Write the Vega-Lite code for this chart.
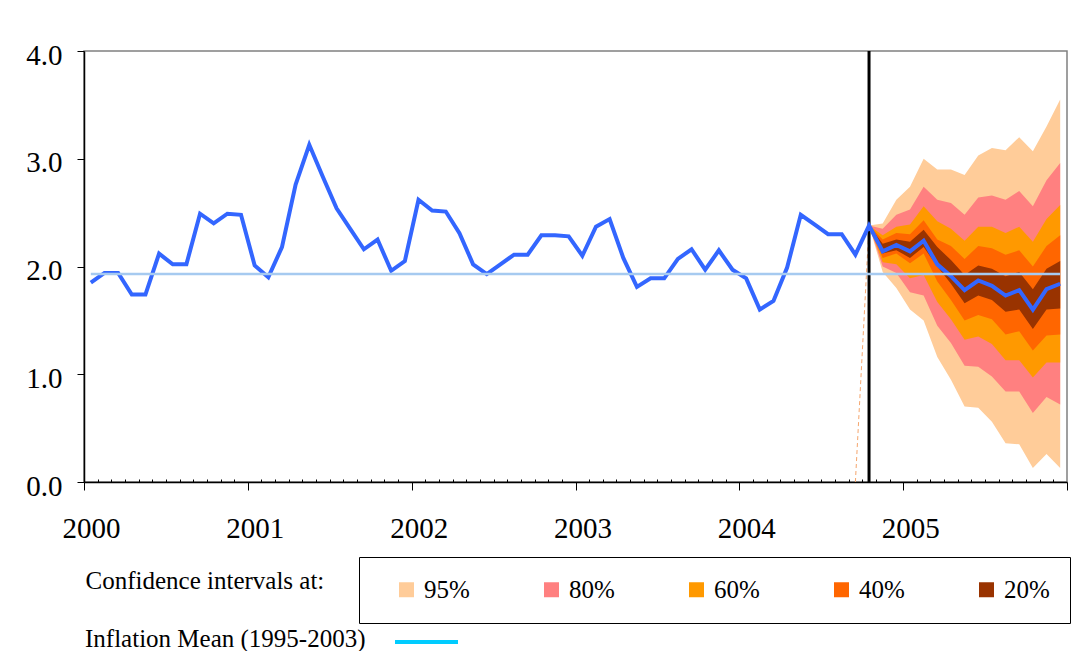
{
  "$schema": "https://vega.github.io/schema/vega-lite/v6.json",
  "autosize": {"type": "none"},
  "width": 983,
  "height": 431,
  "padding": {"left": 84, "top": 51, "right": 24, "bottom": 169},
  "background": "white",
  "config": {
    "view": {"stroke": "#808080", "strokeWidth": 1.5},
    "legend": {"titleFont": "Liberation Serif", "labelFont": "Liberation Serif", "labelFontSize": 25, "labelColor": "black", "titleColor": "black", "titleFontWeight": "normal", "titleLimit": 600, "labelLimit": 300}
  },
  "datasets": {
    "series": [
      {"t":0,"value":1.85,"mean":1.93},{"t":1,"value":1.94,"mean":1.93},{"t":2,"value":1.94,"mean":1.93},{"t":3,"value":1.74,"mean":1.93},
      {"t":4,"value":1.74,"mean":1.93},{"t":5,"value":2.12,"mean":1.93},{"t":6,"value":2.02,"mean":1.93},{"t":7,"value":2.02,"mean":1.93},
      {"t":8,"value":2.49,"mean":1.93},{"t":9,"value":2.40,"mean":1.93},{"t":10,"value":2.49,"mean":1.93},{"t":11,"value":2.48,"mean":1.93},
      {"t":12,"value":2.01,"mean":1.93},{"t":13,"value":1.90,"mean":1.93},{"t":14,"value":2.18,"mean":1.93},{"t":15,"value":2.76,"mean":1.93},
      {"t":16,"value":3.13,"mean":1.93},{"t":17,"value":2.83,"mean":1.93},{"t":18,"value":2.54,"mean":1.93},{"t":19,"value":2.35,"mean":1.93},
      {"t":20,"value":2.16,"mean":1.93},{"t":21,"value":2.25,"mean":1.93},{"t":22,"value":1.96,"mean":1.93},{"t":23,"value":2.05,"mean":1.93},
      {"t":24,"value":2.62,"mean":1.93},{"t":25,"value":2.52,"mean":1.93},{"t":26,"value":2.51,"mean":1.93},{"t":27,"value":2.31,"mean":1.93},
      {"t":28,"value":2.02,"mean":1.93},{"t":29,"value":1.93,"mean":1.93},{"t":30,"value":2.02,"mean":1.93},{"t":31,"value":2.11,"mean":1.93},
      {"t":32,"value":2.11,"mean":1.93},{"t":33,"value":2.29,"mean":1.93},{"t":34,"value":2.29,"mean":1.93},{"t":35,"value":2.28,"mean":1.93},
      {"t":36,"value":2.10,"mean":1.93},{"t":37,"value":2.37,"mean":1.93},{"t":38,"value":2.44,"mean":1.93},{"t":39,"value":2.08,"mean":1.93},
      {"t":40,"value":1.81,"mean":1.93},{"t":41,"value":1.89,"mean":1.93},{"t":42,"value":1.89,"mean":1.93},{"t":43,"value":2.07,"mean":1.93},
      {"t":44,"value":2.16,"mean":1.93},{"t":45,"value":1.97,"mean":1.93},{"t":46,"value":2.15,"mean":1.93},{"t":47,"value":1.97,"mean":1.93},
      {"t":48,"value":1.89,"mean":1.93},{"t":49,"value":1.60,"mean":1.93},{"t":50,"value":1.68,"mean":1.93},{"t":51,"value":1.99,"mean":1.93},
      {"t":52,"value":2.48,"mean":1.93},{"t":53,"value":2.39,"mean":1.93},{"t":54,"value":2.30,"mean":1.93},{"t":55,"value":2.30,"mean":1.93},
      {"t":56,"value":2.11,"mean":1.93},{"t":57,"value":2.38,"mean":1.93},{"t":58,"value":2.14,"mean":1.93},{"t":59,"value":2.20,"mean":1.93},
      {"t":60,"value":2.14,"mean":1.93},{"t":61,"value":2.24,"mean":1.93},{"t":62,"value":2.02,"mean":1.93},{"t":63,"value":1.91,"mean":1.93},
      {"t":64,"value":1.78,"mean":1.93},{"t":65,"value":1.87,"mean":1.93},{"t":66,"value":1.82,"mean":1.93},{"t":67,"value":1.73,"mean":1.93},
      {"t":68,"value":1.78,"mean":1.93},{"t":69,"value":1.60,"mean":1.93},{"t":70,"value":1.79,"mean":1.93},{"t":71,"value":1.84,"mean":1.93}
    ],
    "bands": [
      {"t":57,"band":"95%","lo":2.38,"hi":2.38},{"t":58,"band":"95%","lo":1.95,"hi":2.40},{"t":59,"band":"95%","lo":1.80,"hi":2.62},
      {"t":60,"band":"95%","lo":1.60,"hi":2.74},{"t":61,"band":"95%","lo":1.50,"hi":3.00},{"t":62,"band":"95%","lo":1.16,"hi":2.90},
      {"t":63,"band":"95%","lo":0.95,"hi":2.90},{"t":64,"band":"95%","lo":0.70,"hi":2.85},{"t":65,"band":"95%","lo":0.69,"hi":3.03},
      {"t":66,"band":"95%","lo":0.56,"hi":3.10},{"t":67,"band":"95%","lo":0.36,"hi":3.08},{"t":68,"band":"95%","lo":0.35,"hi":3.20},
      {"t":69,"band":"95%","lo":0.13,"hi":3.07},{"t":70,"band":"95%","lo":0.26,"hi":3.30},{"t":71,"band":"95%","lo":0.13,"hi":3.55},
      {"t":57,"band":"80%","lo":2.38,"hi":2.38},{"t":58,"band":"80%","lo":2.00,"hi":2.35},{"t":59,"band":"80%","lo":1.94,"hi":2.48},
      {"t":60,"band":"80%","lo":1.76,"hi":2.53},{"t":61,"band":"80%","lo":1.73,"hi":2.74},{"t":62,"band":"80%","lo":1.45,"hi":2.62},
      {"t":63,"band":"80%","lo":1.29,"hi":2.59},{"t":64,"band":"80%","lo":1.08,"hi":2.48},{"t":65,"band":"80%","lo":1.07,"hi":2.64},
      {"t":66,"band":"80%","lo":0.98,"hi":2.66},{"t":67,"band":"80%","lo":0.84,"hi":2.62},{"t":68,"band":"80%","lo":0.84,"hi":2.70},
      {"t":69,"band":"80%","lo":0.64,"hi":2.56},{"t":70,"band":"80%","lo":0.79,"hi":2.80},{"t":71,"band":"80%","lo":0.72,"hi":2.96},
      {"t":57,"band":"60%","lo":2.38,"hi":2.38},{"t":58,"band":"60%","lo":2.04,"hi":2.29},{"t":59,"band":"60%","lo":2.02,"hi":2.37},
      {"t":60,"band":"60%","lo":1.89,"hi":2.39},{"t":61,"band":"60%","lo":1.92,"hi":2.56},{"t":62,"band":"60%","lo":1.67,"hi":2.42},
      {"t":63,"band":"60%","lo":1.51,"hi":2.35},{"t":64,"band":"60%","lo":1.32,"hi":2.24},{"t":65,"band":"60%","lo":1.35,"hi":2.37},
      {"t":66,"band":"60%","lo":1.28,"hi":2.37},{"t":67,"band":"60%","lo":1.13,"hi":2.31},{"t":68,"band":"60%","lo":1.13,"hi":2.37},
      {"t":69,"band":"60%","lo":0.97,"hi":2.23},{"t":70,"band":"60%","lo":1.11,"hi":2.44},{"t":71,"band":"60%","lo":1.11,"hi":2.57},
      {"t":57,"band":"40%","lo":2.38,"hi":2.38},{"t":58,"band":"40%","lo":2.08,"hi":2.25},{"t":59,"band":"40%","lo":2.12,"hi":2.31},
      {"t":60,"band":"40%","lo":2.03,"hi":2.30},{"t":61,"band":"40%","lo":2.12,"hi":2.43},{"t":62,"band":"40%","lo":1.86,"hi":2.25},
      {"t":63,"band":"40%","lo":1.69,"hi":2.19},{"t":64,"band":"40%","lo":1.50,"hi":2.07},{"t":65,"band":"40%","lo":1.55,"hi":2.19},
      {"t":66,"band":"40%","lo":1.51,"hi":2.17},{"t":67,"band":"40%","lo":1.37,"hi":2.11},{"t":68,"band":"40%","lo":1.40,"hi":2.15},
      {"t":69,"band":"40%","lo":1.22,"hi":2.00},{"t":70,"band":"40%","lo":1.36,"hi":2.19},{"t":71,"band":"40%","lo":1.37,"hi":2.29},
      {"t":57,"band":"20%","lo":2.38,"hi":2.38},{"t":58,"band":"20%","lo":2.12,"hi":2.21},{"t":59,"band":"20%","lo":2.15,"hi":2.25},
      {"t":60,"band":"20%","lo":2.08,"hi":2.23},{"t":61,"band":"20%","lo":2.18,"hi":2.34},{"t":62,"band":"20%","lo":2.00,"hi":2.18},
      {"t":63,"band":"20%","lo":1.84,"hi":2.06},{"t":64,"band":"20%","lo":1.66,"hi":1.92},{"t":65,"band":"20%","lo":1.73,"hi":2.01},
      {"t":66,"band":"20%","lo":1.69,"hi":1.98},{"t":67,"band":"20%","lo":1.58,"hi":1.91},{"t":68,"band":"20%","lo":1.60,"hi":1.95},
      {"t":69,"band":"20%","lo":1.42,"hi":1.79},{"t":70,"band":"20%","lo":1.60,"hi":1.98},{"t":71,"band":"20%","lo":1.61,"hi":2.05}
    ],
    "edge": [{"t":56,"v":0},{"t":57,"v":2.38}],
    "forecastStart": [{"t":57}]
  },
  "encoding": {
    "x": {
      "field": "t", "type": "quantitative",
      "scale": {"domain": [-0.5, 71.5], "nice": false, "zero": false},
      "axis": {
        "values": [-0.5,0.5,1.5,2.5,3.5,4.5,5.5,6.5,7.5,8.5,9.5,10.5,11.5,12.5,13.5,14.5,15.5,16.5,17.5,18.5,19.5,20.5,21.5,22.5,23.5,24.5,25.5,26.5,27.5,28.5,29.5,30.5,31.5,32.5,33.5,34.5,35.5,36.5,37.5,38.5,39.5,40.5,41.5,42.5,43.5,44.5,45.5,46.5,47.5,48.5,49.5,50.5,51.5,52.5,53.5,54.5,55.5,56.5,57.5,58.5,59.5,60.5,61.5,62.5,63.5,64.5,65.5,66.5,67.5,68.5,69.5,70.5,71.5],
        "labelExpr": "(datum.value + 0.5) % 12 == 0 && datum.value < 71 ? '' + (2000 + (datum.value + 0.5) / 12) : ''",
        "tickSize": {"condition": {"test": "(datum.value + 0.5) % 12 == 0", "value": 8}, "value": -3},
        "tickColor": "black",
        "tickWidth": 1,
        "domainColor": "black",
        "domainWidth": 1.5,
        "grid": false,
        "labelFont": "Liberation Serif",
        "labelFontSize": 29,
        "labelColor": "black",
        "labelOffset": 7,
        "labelPadding": 24,
        "labelFlush": false,
        "labelOverlap": false,
        "labelBound": false,
        "title": "Confidence intervals at:",
        "titleX": 1,
        "titleY": 106,
        "titleAlign": "left",
        "titleAnchor": "start",
        "titleBaseline": "alphabetic",
        "titleFont": "Liberation Serif",
        "titleFontSize": 25,
        "titleFontWeight": "normal",
        "titleColor": "black"
      }
    }
  },
  "layer": [
    {
      "data": {"name": "bands"},
      "transform": [{"filter": "datum.band === '95%'"}],
      "mark": {"type": "area", "opacity": 1},
      "encoding": {
        "y": {
          "field": "hi", "type": "quantitative", "title": null,
          "scale": {"domain": [0, 4], "nice": false, "zero": true},
          "axis": {
            "values": [0, 1, 2, 3, 4],
            "format": ".1f",
            "tickSize": 7,
            "tickColor": "black",
            "domainColor": "black",
            "domainWidth": 1.5,
            "grid": false,
            "labelFont": "Liberation Serif",
            "labelFontSize": 29,
            "labelColor": "black",
            "labelPadding": 15,
            "labelOffset": 4,
            "title": null
          }
        },
        "y2": {"field": "lo"},
        "fill": {
          "field": "band", "type": "nominal",
          "scale": {"domain": ["95%", "80%", "60%", "40%", "20%"], "range": ["#FFCC99", "#FF8080", "#FF9900", "#FF6600", "#993300"]},
          "legend": {
            "orient": "none",
            "legendX": 275,
            "legendY": 506,
            "direction": "horizontal",
            "title": "\u00a0",
            "titleOrient": "left",
            "titleFontSize": 2,
            "titlePadding": 15,
            "strokeColor": "black",
            "padding": 20,
            "symbolType": "square",
            "symbolSize": 225,
            "symbolStrokeWidth": 0,
            "labelFont": "Liberation Serif",
            "labelFontSize": 25,
            "labelColor": "black",
            "labelOffset": 5,
            "columnPadding": 69
          }
        }
      }
    },
    {
      "data": {"name": "bands"},
      "transform": [{"filter": "datum.band === '80%'"}],
      "mark": {"type": "area", "opacity": 1},
      "encoding": {"y": {"field": "hi", "type": "quantitative", "title": null}, "y2": {"field": "lo"}, "fill": {"field": "band", "type": "nominal"}}
    },
    {
      "data": {"name": "bands"},
      "transform": [{"filter": "datum.band === '60%'"}],
      "mark": {"type": "area", "opacity": 1},
      "encoding": {"y": {"field": "hi", "type": "quantitative", "title": null}, "y2": {"field": "lo"}, "fill": {"field": "band", "type": "nominal"}}
    },
    {
      "data": {"name": "bands"},
      "transform": [{"filter": "datum.band === '40%'"}],
      "mark": {"type": "area", "opacity": 1},
      "encoding": {"y": {"field": "hi", "type": "quantitative", "title": null}, "y2": {"field": "lo"}, "fill": {"field": "band", "type": "nominal"}}
    },
    {
      "data": {"name": "bands"},
      "transform": [{"filter": "datum.band === '20%'"}],
      "mark": {"type": "area", "opacity": 1},
      "encoding": {"y": {"field": "hi", "type": "quantitative", "title": null}, "y2": {"field": "lo"}, "fill": {"field": "band", "type": "nominal"}}
    },
    {
      "data": {"name": "edge"},
      "mark": {"type": "line", "color": "#F5A66E", "strokeWidth": 1, "strokeDash": [4, 3]},
      "encoding": {"y": {"field": "v", "type": "quantitative", "title": null}}
    },
    {
      "data": {"name": "forecastStart"},
      "mark": {"type": "rule", "color": "black", "strokeWidth": 3},
      "encoding": {}
    },
    {
      "data": {"name": "series"},
      "mark": {"type": "line", "color": "#3366FF", "strokeWidth": 4},
      "encoding": {"y": {"field": "value", "type": "quantitative", "title": null}}
    },
    {
      "data": {"name": "series"},
      "mark": {"type": "line", "color": "#A6CAF0", "strokeWidth": 2.5},
      "encoding": {"y": {"field": "mean", "type": "quantitative", "title": null}}
    },
    {
      "data": {"name": "series"},
      "transform": [{"filter": "false"}],
      "mark": {"type": "line", "strokeWidth": 4},
      "encoding": {
        "y": {"field": "mean", "type": "quantitative", "title": null},
        "stroke": {
          "datum": "Inflation Mean (1995-2003)", "type": "nominal",
          "scale": {"range": ["#00CCFF"]},
          "legend": {
            "orient": "none",
            "legendX": 1,
            "legendY": 565,
            "title": "Inflation Mean (1995-2003)",
            "titleOrient": "left",
            "titleFont": "Liberation Serif",
            "titleFontSize": 25,
            "titleFontWeight": "normal",
            "titleColor": "black",
            "titleBaseline": "middle",
            "titleLimit": 600,
            "titlePadding": 27,
            "labelExpr": "''",
            "symbolType": "stroke",
            "symbolSize": 3969,
            "symbolStrokeWidth": 4,
            "padding": 0,
            "encode": {"symbols": {"update": {"strokeWidth": {"value": 4}, "y": {"value": 26}}}}
          }
        }
      }
    }
  ]
}
